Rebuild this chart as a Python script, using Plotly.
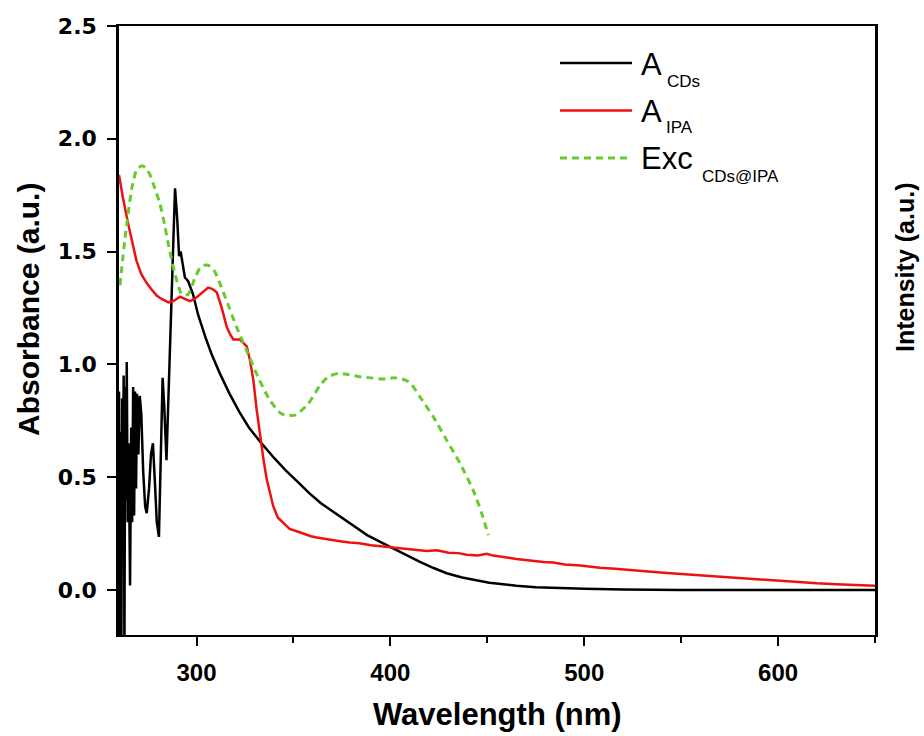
import plotly.graph_objects as go

# ---------------- data ----------------
wl_cds = [260, 260.4, 260.8, 261.2, 261.6, 262, 262.4, 262.8, 263.2, 263.6, 264, 264.5, 265,
          265.7, 266.3, 266.8, 267.3, 267.8, 268.3, 268.8, 269.3, 270, 270.7, 271.5, 272.5,
          273.5, 274.3, 275.5, 276.5, 277.5, 278.5, 279.5, 280.6, 281.5, 282.5, 283.3, 284.5,
          285.3, 286.6, 287.7, 288.9, 290, 291, 291.8, 292.9, 294, 295.6, 298.2, 300.8, 303,
          305, 308, 312, 317, 322, 327, 333, 340, 346, 353, 358, 364, 370, 374, 381, 388, 395,
          401, 408, 415, 422, 429, 437, 445, 451, 457, 465, 475, 488, 500, 520, 550, 600, 650]
a_cds = [0.88, -0.3, 0.7, -0.3, 0.85, 0.2, 0.95, -0.3, 0.9, 0.4, 1.01, 0.3, 0.65,
         0.02, 0.72, 0.3, 0.9, 0.33, 0.88, 0.45, 0.87, 0.6, 0.86, 0.78, 0.52,
         0.37, 0.34, 0.45, 0.6, 0.65, 0.48, 0.3, 0.235, 0.6, 0.94, 0.82, 0.575,
         0.8, 1.19, 1.5, 1.78, 1.65, 1.48, 1.5, 1.44, 1.385, 1.37, 1.31, 1.22, 1.16,
         1.11, 1.04, 0.96, 0.87, 0.79, 0.72, 0.655, 0.585, 0.53, 0.472, 0.43, 0.385, 0.35,
         0.325, 0.282, 0.243, 0.212, 0.185, 0.155, 0.125, 0.098, 0.074, 0.055, 0.04, 0.032,
         0.026, 0.018, 0.012, 0.008, 0.005, 0.002, 0.0, 0.0, 0.0]

wl_ipa = [260, 262, 264.8, 267, 269, 271.5, 274.3, 277, 279.4, 282, 285.5, 288, 291.5, 294,
          296.6, 299, 301.8, 304, 306, 308, 310.4, 313, 315.6, 317.5, 319, 322.4, 325.9,
          327.5, 329.3, 331, 332.8, 334.5, 336.2, 338, 339.6, 342, 344.8, 348, 351.7, 356,
          359, 362, 366, 370, 374, 379, 384, 390, 395, 401.5, 405, 410, 414, 418.8, 424, 430,
          435, 439.4, 445, 449.7, 453, 456.6, 461, 465, 471, 478.9, 484, 490, 498, 508, 516,
          525, 533, 542.6, 551, 560, 568, 577, 586, 595, 603, 611.4, 620, 630, 640, 650]
a_ipa = [1.84, 1.74, 1.62, 1.53, 1.46, 1.40, 1.36, 1.33, 1.305, 1.29, 1.275, 1.28, 1.30, 1.29,
         1.28, 1.29, 1.31, 1.33, 1.34, 1.335, 1.32, 1.25, 1.165, 1.13, 1.11, 1.11, 1.08,
         1.02, 0.93, 0.80, 0.68, 0.58, 0.49, 0.42, 0.37, 0.32, 0.295, 0.27, 0.26, 0.245,
         0.238, 0.232, 0.226, 0.222, 0.216, 0.21, 0.207, 0.198, 0.194, 0.187, 0.183, 0.18,
         0.176, 0.172, 0.176, 0.165, 0.163, 0.156, 0.153, 0.16, 0.152, 0.146, 0.142, 0.137,
         0.13, 0.124, 0.121, 0.113, 0.108, 0.098, 0.094, 0.086, 0.082, 0.075, 0.07, 0.064,
         0.059, 0.053, 0.048, 0.043, 0.037, 0.033, 0.029, 0.025, 0.021, 0.018]

wl_exc = [260.5, 263.1, 266.6, 269, 271.7, 274, 276, 278.5, 281.2, 283.5, 285.5, 288.9, 292.4,
          295.6, 299.2, 302, 304.4, 307, 309.5, 312, 314.7, 320.7, 325.9, 331.9, 337.9, 344,
          350.8, 357.7, 363.7, 368, 373, 378, 384, 390, 396, 402, 406, 410, 415.3, 422.2, 429,
          436, 442.8, 447.1, 450.5]
exc_cds_ipa = [1.35, 1.56, 1.78, 1.86, 1.88, 1.87, 1.84, 1.78, 1.71, 1.62, 1.53, 1.40, 1.31,
               1.31, 1.385, 1.43, 1.44, 1.435, 1.41, 1.36, 1.30, 1.165, 1.06, 0.94, 0.84, 0.78,
               0.775, 0.826, 0.907, 0.945, 0.96, 0.955, 0.945, 0.94, 0.935, 0.94, 0.935, 0.92,
               0.855, 0.767, 0.664, 0.56, 0.44, 0.34, 0.243]

x_ticks = [300, 400, 500, 600]
y_ticks = [0.0, 0.5, 1.0, 1.5, 2.0, 2.5]
y_tick_text = ["0.0", "0.5", "1.0", "1.5", "2.0", "2.5"]

# ---------------- figure ----------------
W, H = 924, 736
L, R, T, B = 119, 875, 26, 635

BLACK = "#000000"
RED = "#ee1111"
GREEN = "#66cc2e"

fig = go.Figure()
fig.add_trace(go.Scatter(x=wl_cds, y=a_cds, mode="lines",
                         line=dict(color=BLACK, width=2.5), showlegend=False))
fig.add_trace(go.Scatter(x=wl_ipa, y=a_ipa, mode="lines",
                         line=dict(color=RED, width=2.5), showlegend=False))
fig.add_trace(go.Scatter(x=wl_exc, y=exc_cds_ipa, mode="lines",
                         line=dict(color=GREEN, width=3, dash="7px,5px", shape="spline",
                                   smoothing=0.6), showlegend=False))


def px2paper(px, py):
    return (px - L) / (R - L), (B - py) / (B - T)


shapes = []
annotations = []
TXT = "Liberation Sans, Arial, sans-serif"

# manual legend (line samples + labels)
legend_rows = [
    (63, BLACK, "solid", "A", "CDs", 64, 81, 665),
    (110.5, RED, "solid", "A", "IPA", 111, 127, 664),
    (158, GREEN, "7px,5px", "Exc", "CDs@IPA", 159, 176, 700),
]
for ly, col, dash, main, sub, my, sy, sx in legend_rows:
    x0, y0 = px2paper(560, ly)
    x1, _ = px2paper(632, ly)
    shapes.append(dict(type="line", xref="paper", yref="paper", x0=x0, x1=x1, y0=y0, y1=y0,
                       line=dict(color=col, width=3 if col == GREEN else 2.5, dash=dash)))
    ax_, ay_ = px2paper(639, my)
    annotations.append(dict(text=main, xref="paper", yref="paper", x=ax_, y=ay_,
                            xanchor="left", yanchor="middle", showarrow=False,
                            font=dict(family=TXT, size=31, color="#000")))
    sx_, sy_ = px2paper(sx, sy)
    annotations.append(dict(text=sub, xref="paper", yref="paper", x=sx_, y=sy_,
                            xanchor="left", yanchor="middle", showarrow=False,
                            font=dict(family=TXT, size=17, color="#000")))

# axis titles
tx, ty = px2paper(28, 310)
annotations.append(dict(text="<b>Absorbance (a.u.)</b>", xref="paper", yref="paper", x=tx, y=ty,
                        textangle=-90, showarrow=False, xanchor="center", yanchor="middle",
                        font=dict(family=TXT, size=30, color="#000")))
tx, ty = px2paper(905, 268)
annotations.append(dict(text="<b>Intensity (a.u.)</b>", xref="paper", yref="paper", x=tx, y=ty,
                        textangle=-90, showarrow=False, xanchor="center", yanchor="middle",
                        font=dict(family=TXT, size=25, color="#000")))
tx, ty = px2paper(497, 714)
annotations.append(dict(text="<b>Wavelength (nm)</b>", xref="paper", yref="paper", x=tx, y=ty,
                        showarrow=False, xanchor="center", yanchor="middle",
                        font=dict(family=TXT, size=31, color="#000")))

fig.update_layout(
    width=W, height=H,
    margin=dict(l=L, r=W - R, t=T, b=H - B, pad=0),
    paper_bgcolor="white", plot_bgcolor="white",
    shapes=shapes, annotations=annotations,
    showlegend=False,
)
fig.update_xaxes(
    range=[260, 650], tickmode="array", tickvals=x_ticks,
    ticks="outside", ticklen=9, tickwidth=2, tickcolor="#000",
    minor=dict(tickmode="array", tickvals=[350, 450, 550, 650], ticks="outside",
               ticklen=6, tickwidth=2, tickcolor="#000"),
    showline=True, linewidth=2, linecolor="#000", mirror=True,
    showgrid=False, zeroline=False,
    tickfont=dict(family=TXT, size=24, color="#000", weight="bold"),
    ticklabelstandoff=6,
)
fig.update_yaxes(
    range=[-0.2, 2.5], tickmode="array", tickvals=y_ticks, ticktext=y_tick_text,
    ticks="outside", ticklen=9, tickwidth=2, tickcolor="#000",
    showline=True, linewidth=2.5, linecolor="#000", mirror=True,
    showgrid=False, zeroline=False,
    tickfont=dict(family="DejaVu Sans, sans-serif", size=22, color="#000", weight="bold"),
    ticklabelstandoff=6,
)

fig.write_html("out.html")
